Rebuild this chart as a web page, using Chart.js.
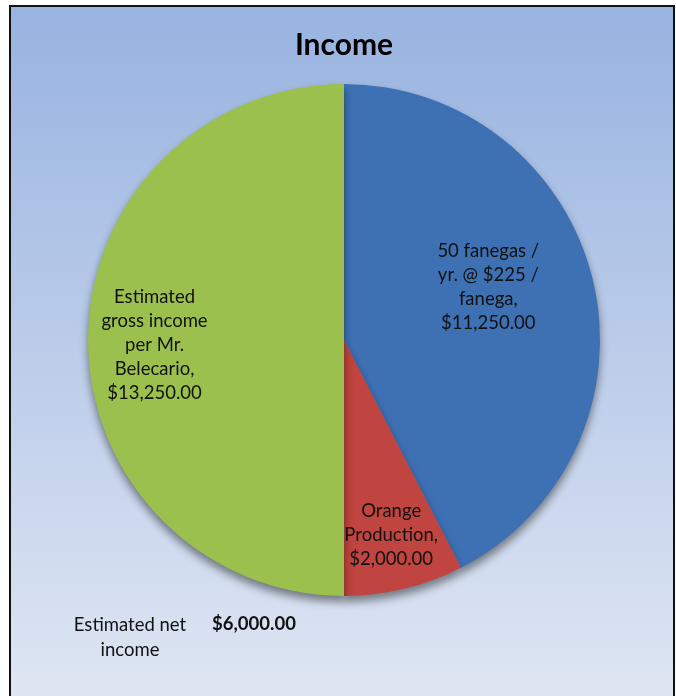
<!DOCTYPE html>
<html>
<head>
<meta charset="utf-8">
<script src="https://cdn.jsdelivr.net/npm/chart.js@4.4.1/dist/chart.umd.min.js"></script>
<style>
  html, body { margin: 0; padding: 0; background: #fff; }
  #wrap { width: 676px; height: 696px; }
</style>
</head>
<body>
<div id="wrap"><canvas id="incomePie" width="676" height="696"></canvas></div>
<script>
// Data
const categories = [
    ['50 fanegas /', 'yr. @ $225 /', 'fanega,'],
    ['Orange', 'Production,'],
    ['Estimated', 'gross income', 'per Mr.', 'Belecario,']
];
const values = [11250, 2000, 13250];
const valueLabels = ['$11,250.00', '$2,000.00', '$13,250.00'];
const netIncomeLabel = ['Estimated net', 'income'];
const netIncomeValue = '$6,000.00';

const sliceColors = ['#3e70b4', '#c0443f', '#9cc04e'];
// label placement: fraction of radius along the slice middle, plus a small nudge
const labelRadius = [0.6, 0.785, 0.74];
const labelNudge = [[-5, -17], [0, 0], [0, 5]];

// Frame + gradient background, like the Excel chart area
const chartBackground = {
    id: 'chartBackground',
    beforeDraw(chart) {
        const c = chart.ctx;
        c.save();
        c.fillStyle = '#ffffff';
        c.fillRect(0, 0, chart.width, chart.height);
        const g = c.createLinearGradient(0, 6, 0, 696);
        g.addColorStop(0, '#98b3e0');
        g.addColorStop(1, '#dfe6f3');
        c.fillStyle = g;
        c.fillRect(10, 6, 664, 700);
        c.strokeStyle = '#111';
        c.lineWidth = 2;
        c.strokeRect(10, 6, 664, 700);
        c.restore();
    }
};

// Soft drop shadow under the pie for the 3D look
const pieShadow = {
    id: 'pieShadow',
    beforeDatasetsDraw(chart) {
        const c = chart.ctx;
        c.save();
        c.shadowColor = 'rgba(0,0,0,0.45)';
        c.shadowBlur = 8;
        c.shadowOffsetY = 6;
    },
    afterDatasetsDraw(chart) {
        chart.ctx.restore();
    }
};

// Slice labels + the loose "net income" text
const sliceLabels = {
    id: 'sliceLabels',
    afterDraw(chart) {
        const c = chart.ctx;
        const meta = chart.getDatasetMeta(0);
        c.save();
        c.font = '18.5px Lato, "Open Sans", sans-serif';
        c.fillStyle = '#111';
        c.textAlign = 'center';
        c.textBaseline = 'middle';
        meta.data.forEach((arc, i) => {
            const p = arc.getProps(['x', 'y', 'startAngle', 'endAngle', 'outerRadius']);
            const mid = (p.startAngle + p.endAngle) / 2;
            const r = p.outerRadius * labelRadius[i];
            const cx = p.x + Math.cos(mid) * r + labelNudge[i][0];
            const cy = p.y + Math.sin(mid) * r + labelNudge[i][1];
            const lines = categories[i].concat([valueLabels[i]]);
            const lh = 24;
            lines.forEach((t, k) => {
                c.fillText(t, cx, cy + (k - (lines.length - 1) / 2) * lh);
            });
        });
        // net income text at the bottom left
        c.fillText(netIncomeLabel[0], 130, 625);
        c.fillText(netIncomeLabel[1], 130, 650);
        c.font = 'bold 18.5px Lato, "Open Sans", sans-serif';
        c.fillText(netIncomeValue, 254, 624);
        c.restore();
    }
};

const ctx = document.getElementById('incomePie').getContext('2d');
const incomePie = new Chart(ctx, {
    type: 'pie',
    data: {
        labels: categories.map(c => c.join(' ')),
        datasets: [{
            data: values,
            backgroundColor: sliceColors,
            borderWidth: 0
        }]
    },
    options: {
        responsive: false,
        animation: false,
        layout: { padding: { top: 10, bottom: 100, left: 88, right: 76 } },
        plugins: {
            legend: { display: false },
            tooltip: { enabled: false },
            title: {
                display: true,
                text: 'Income',
                color: '#000',
                font: { family: 'Lato, "Open Sans", sans-serif', size: 30, weight: 'bold', lineHeight: 1.2 },
                padding: { top: 17, bottom: 21 }
            }
        }
    },
    plugins: [chartBackground, pieShadow, sliceLabels]
});
</script>
</body>
</html>
